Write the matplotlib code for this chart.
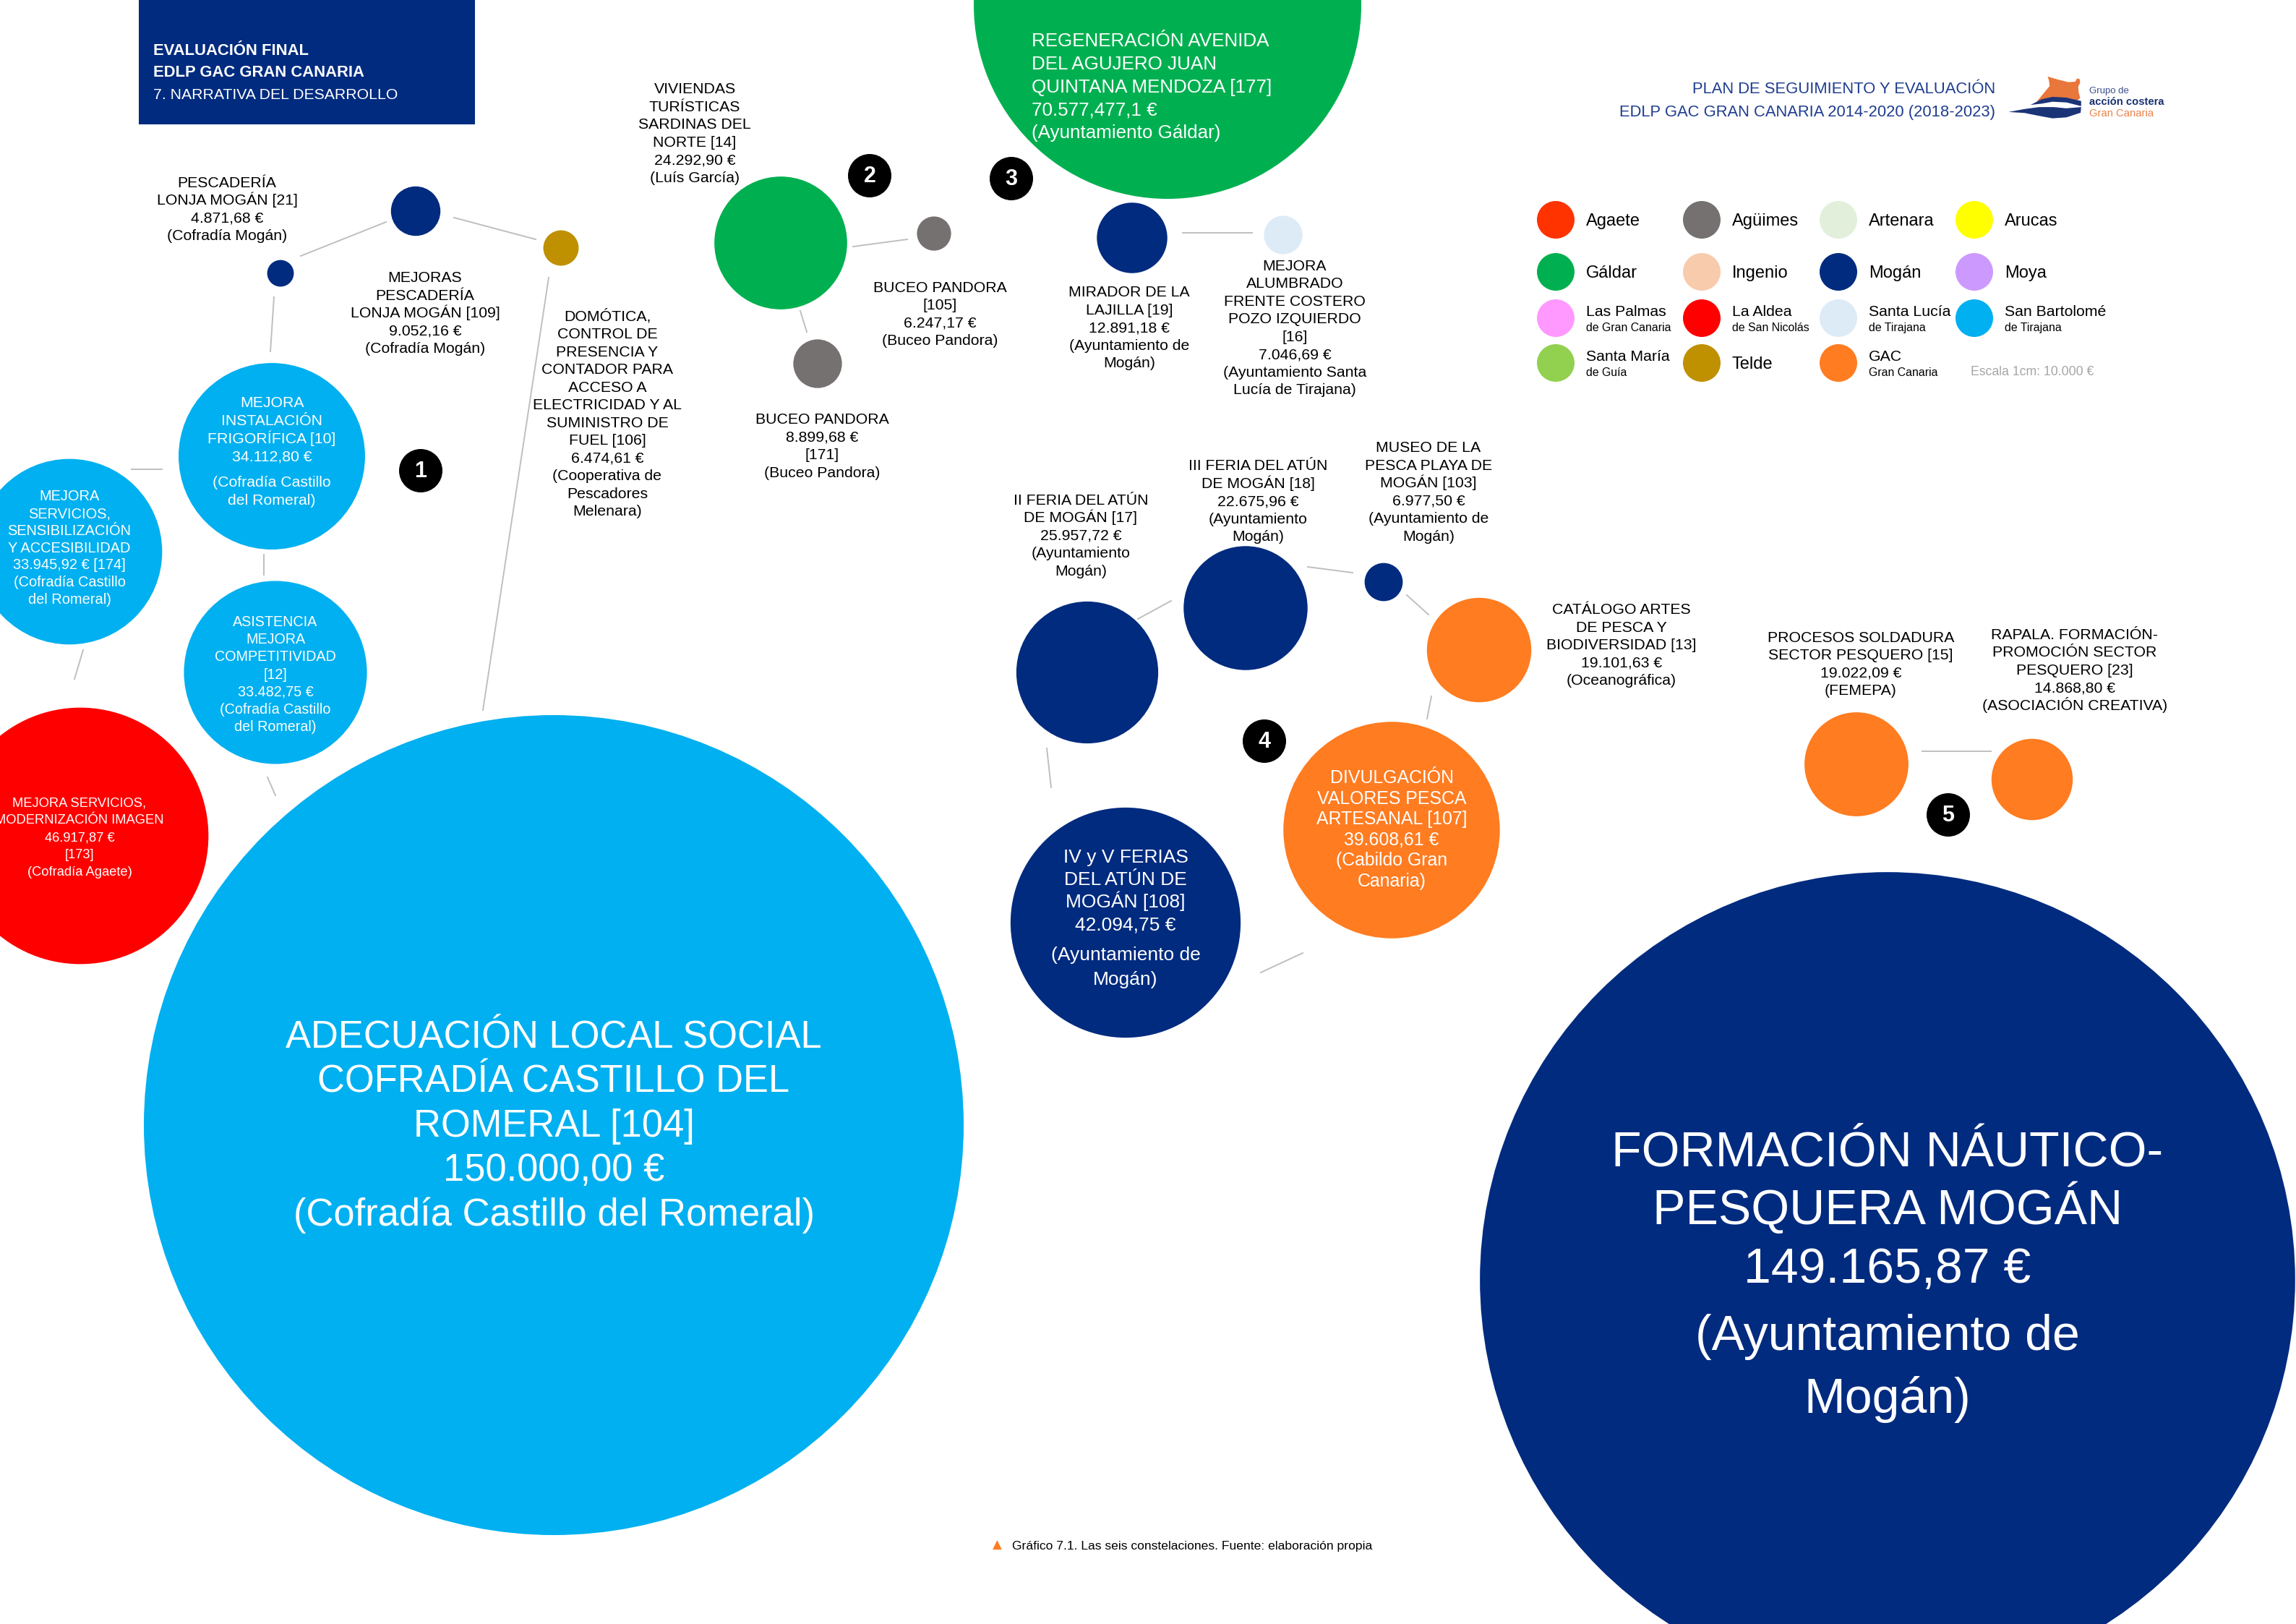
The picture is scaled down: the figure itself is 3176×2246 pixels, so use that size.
import matplotlib
matplotlib.use('Agg')
import matplotlib.pyplot as plt
from matplotlib.patches import Circle, Rectangle, Polygon
from matplotlib import font_manager

# ---- data -------------------------------------------------------------
codes = ['21', '109', '106', '10', '174', '12', '173', '104', '14', '105', '171',
         '177', '19', '16', '17', '18', '103', '13', '107', '108', '15', '23', '']
amounts = [4871.68, 9052.16, 6474.61, 34112.80, 33945.92, 33482.75, 46917.87,
           150000.00, 24292.90, 6247.17, 8899.68, 70577477.1, 12891.18, 7046.69,
           25957.72, 22675.96, 6977.50, 19101.63, 39608.61, 42094.75, 19022.09,
           14868.80, 149165.87]
groups = ['Mogán', 'Mogán', 'Telde', 'San Bartolomé', 'San Bartolomé', 'San Bartolomé',
          'La Aldea', 'San Bartolomé', 'Gáldar', 'Agüimes', 'Agüimes', 'Gáldar',
          'Mogán', 'Santa Lucía', 'Mogán', 'Mogán', 'Mogán', 'GAC', 'GAC', 'Mogán',
          'GAC', 'GAC', 'Mogán']
# bubble centres on the page (px)
bx = [388, 575, 776, 376, 96, 381, 111, 766, 1080, 1292, 1131, 1615, 1566, 1775,
      1504, 1723, 1914, 2046, 1925, 1557, 2568, 2811, 2611]
by = [378, 292, 343, 631, 763, 930, 1156, 1556, 336, 323, 503, 7, 329, 325,
      930, 841, 805, 899, 1148, 1276, 1057, 1078, 1770]

legend_names = ['Agaete', 'Agüimes', 'Artenara', 'Arucas',
                'Gáldar', 'Ingenio', 'Mogán', 'Moya',
                'Las Palmas', 'La Aldea', 'Santa Lucía', 'San Bartolomé',
                'Santa María', 'Telde', 'GAC']
legend_sub = ['', '', '', '', '', '', '', '',
              'de Gran Canaria', 'de San Nicolás', 'de Tirajana', 'de Tirajana',
              'de Guía', '', 'Gran Canaria']
legend_colors = ['#FF3300', '#767171', '#E2EFDA', '#FFFF00',
                 '#00B050', '#F8CBAD', '#002B7F', '#CC99FF',
                 '#FF99FF', '#FF0000', '#DDEBF7', '#00B0F0',
                 '#92D050', '#BF9000', '#FF7C21']

badges = ['1', '2', '3', '4', '5']
badge_x = [582, 1203, 1399, 1749, 2695]
badge_y = [651, 243, 247, 1025, 1127]

# ---- setup ------------------------------------------------------------
W, H = 3176, 2246
K = 0.00378          # px per euro (diameter scale)
OFF_SCALE = 1e6      # amounts above this are drawn at a fixed size
R_CAP = 268
NAVY = '#002B7F'
BODY = ['Liberation Sans', 'DejaVu Sans']
avail = {f.name for f in font_manager.fontManager.ttflist}
if 'Liberation Sans Narrow' in avail:
    NARROW, NS = ['Liberation Sans Narrow', 'DejaVu Sans'], 1 / 0.82
else:
    NARROW, NS = BODY, 1.0
plt.rcParams['font.family'] = BODY

fig = plt.figure(figsize=(W / 100, H / 100), dpi=100)
ax = fig.add_axes([0, 0, 1, 1])
ax.set_xlim(0, W)
ax.set_ylim(H, 0)
ax.set_aspect('equal')
ax.axis('off')

cmap = dict(zip(legend_names, legend_colors))


def block(x, yc, text, size, pitch, color='black', ha='center', weight='normal', family=None):
    lines = text.split('\n')
    n = len(lines)
    cap = 0.716 * size * 100 / 72
    for i, line in enumerate(lines):
        yy = yc + (i - (n - 1) / 2) * pitch + cap / 2
        ax.text(x, yy, line, ha=ha, va='baseline', fontsize=size, color=color,
                fontweight=weight, family=family or BODY, zorder=5)


# connectors
links = [((416, 354), (534, 307)), ((628, 301), (741, 331)), ((379, 411), (374, 486)),
         ((759, 384), (668, 982)), ((182, 649), (224, 649)), ((365, 767), (365, 795)),
         ((115, 899), (103, 939)), ((370, 1075), (381, 1100)), ((1180, 341), (1255, 331)),
         ((1107, 430), (1116, 459)), ((1636, 322), (1732, 322)), ((1574, 856), (1620, 831)),
         ((1809, 784), (1871, 792)), ((1946, 823), (1976, 850)), ((1980, 963), (1974, 994)),
         ((1448, 1035), (1454, 1089)), ((1744, 1345), (1802, 1318)), ((2659, 1039), (2754, 1039))]
for (x0, y0), (x1, y1) in links:
    ax.plot([x0, x1], [y0, y1], color='#BFBFBF', lw=1.4, zorder=1)

# bubbles
for xi, yi, a, g in zip(bx, by, amounts, groups):
    r = R_CAP if a > OFF_SCALE else a * K
    ax.add_patch(Circle((xi, yi), r, color=cmap[g], lw=0, zorder=2))

# constellation badges
for t, xi, yi in zip(badges, badge_x, badge_y):
    ax.add_patch(Circle((xi, yi), 30, color='black', lw=0, zorder=3))
    ax.text(xi, yi + 1, t, ha='center', va='center', color='white', fontsize=22,
            fontweight='bold', zorder=4)

# outside labels
P = 24.5
S = 15.3
block(314, 288, 'PESCADERÍA\nLONJA MOGÁN [21]\n4.871,68 €\n(Cofradía Mogán)', S, P)
block(588, 431.5, 'MEJORAS\nPESCADERÍA\nLONJA MOGÁN [109]\n9.052,16 €\n(Cofradía Mogán)', S, P)
block(840, 571, 'DOMÓTICA,\nCONTROL DE\nPRESENCIA Y\nCONTADOR PARA\nACCESO A\n'
      'ELECTRICIDAD Y AL\nSUMINISTRO DE\nFUEL [106]\n6.474,61 €\n(Cooperativa de\n'
      'Pescadores\nMelenara)', S, P)
block(961, 183, 'VIVIENDAS\nTURÍSTICAS\nSARDINAS DEL\nNORTE [14]\n24.292,90 €\n(Luís García)', S, P)
block(1300, 433, 'BUCEO PANDORA\n[105]\n6.247,17 €\n(Buceo Pandora)', S, P)
block(1137, 615.5, 'BUCEO PANDORA\n8.899,68 €\n[171]\n(Buceo Pandora)', S, P)
block(1562, 451.5, 'MIRADOR DE LA\nLAJILLA [19]\n12.891,18 €\n(Ayuntamiento de\nMogán)', S, P)
block(1791, 452, 'MEJORA\nALUMBRADO\nFRENTE COSTERO\nPOZO IZQUIERDO\n[16]\n7.046,69 €\n'
      '(Ayuntamiento Santa\nLucía de Tirajana)', S, P)
block(1495, 739, 'II FERIA DEL ATÚN\nDE MOGÁN [17]\n25.957,72 €\n(Ayuntamiento\nMogán)', S, P)
block(1740, 691.5, 'III FERIA DEL ATÚN\nDE MOGÁN [18]\n22.675,96 €\n(Ayuntamiento\nMogán)', S, P)
block(1976, 679, 'MUSEO DE LA\nPESCA PLAYA DE\nMOGÁN [103]\n6.977,50 €\n(Ayuntamiento de\nMogán)', S, P)
block(2243, 890.5, 'CATÁLOGO ARTES\nDE PESCA Y\nBIODIVERSIDAD [13]\n19.101,63 €\n(Oceanográfica)', S, P)
block(2574, 917, 'PROCESOS SOLDADURA\nSECTOR PESQUERO [15]\n19.022,09 €\n(FEMEPA)', S, P)
block(2870, 925, 'RAPALA. FORMACIÓN-\nPROMOCIÓN SECTOR\nPESQUERO [23]\n14.868,80 €\n'
      '(ASOCIACIÓN CREATIVA)', S, P)

# labels inside bubbles
Wt = 'white'
block(376, 592.5, 'MEJORA\nINSTALACIÓN\nFRIGORÍFICA [10]\n34.112,80 €', 15.3, 25, Wt)
block(376, 677.5, '(Cofradía Castillo\ndel Romeral)', 15.3, 25, Wt)
block(96, 756.5, 'MEJORA\nSERVICIOS,\nSENSIBILIZACIÓN\nY ACCESIBILIDAD\n33.945,92 € [174]\n'
      '(Cofradía Castillo\ndel Romeral)', 14.4, 23.8, Wt)
block(381, 931.5, 'ASISTENCIA\nMEJORA\nCOMPETITIVIDAD\n[12]\n33.482,75 €\n'
      '(Cofradía Castillo\ndel Romeral)', 14.2, 24.2, Wt)
block(110, 1156.5, 'MEJORA SERVICIOS,\nMODERNIZACIÓN IMAGEN\n46.917,87 €\n[173]\n'
      '(Cofradía Agaete)', 13.2, 23.75, Wt)
block(1427, 118.5, 'REGENERACIÓN AVENIDA\nDEL AGUJERO JUAN\nQUINTANA MENDOZA [177]\n'
      '70.577,477,1 €\n(Ayuntamiento Gáldar)', 18.7, 31.7, Wt, ha='left')
block(1925, 1145.5, 'DIVULGACIÓN\nVALORES PESCA\nARTESANAL [107]\n39.608,61 €\n'
      '(Cabildo Gran\nCanaria)', 17.9, 28.6, Wt)
block(1557, 1230.5, 'IV y V FERIAS\nDEL ATÚN DE\nMOGÁN [108]\n42.094,75 €', 19, 31, Wt)
block(1557, 1336, '(Ayuntamiento de\nMogán)', 19, 34, Wt)
block(766, 1553, 'ADECUACIÓN LOCAL SOCIAL\nCOFRADÍA CASTILLO DEL\nROMERAL [104]\n'
      '150.000,00 €\n(Cofradía Castillo del Romeral)', 37.8, 61.7, Wt)
block(2611, 1669, 'FORMACIÓN NÁUTICO-\nPESQUERA MOGÁN\n149.165,87 €', 49, 81, Wt)
block(2611, 1886.5, '(Ayuntamiento de\nMogán)', 49, 87, Wt)

# header box
ax.add_patch(Rectangle((192, 0), 465, 172, color=NAVY, lw=0, zorder=2))
block(212, 83, 'EVALUACIÓN FINAL\nEDLP GAC GRAN CANARIA', 15.8 * NS, 30.5, Wt, ha='left',
      weight='bold', family=NARROW)
block(212, 129, '7. NARRATIVA DEL DESARROLLO', 15.3 * NS, 30, Wt, ha='left', family=NARROW)

# title top right
block(2760, 137, 'PLAN DE SEGUIMIENTO Y EVALUACIÓN\nEDLP GAC GRAN CANARIA 2014-2020 (2018-2023)',
      15.8 * NS, 32, '#1F3D8F', ha='right', family=NARROW)

# logo
def lp(pts):
    return [(2770 + px / 2.96, 90 + py / 2.96) for px, py in pts]

ax.add_patch(Polygon(lp([(185, 47), (230, 60), (270, 70), (298, 68), (305, 55), (316, 57),
                         (318, 72), (310, 88), (312, 112), (318, 135), (300, 150), (262, 141),
                         (220, 139), (175, 146), (140, 150), (168, 116), (193, 86), (190, 62)]),
                     color='#E9763A', lw=0, zorder=3))
ax.add_patch(Polygon(lp([(115, 163), (160, 140), (205, 130), (260, 133), (322, 147), (322, 168),
                         (262, 153), (205, 150), (160, 158)]), color='#1B3478', lw=0, zorder=3))
ax.add_patch(Polygon(lp([(25, 192), (90, 180), (150, 172), (210, 172), (260, 177), (322, 172),
                         (320, 195), (262, 214), (205, 218), (150, 208), (90, 196)]),
                     color='#1B3478', lw=0, zorder=3))
ax.text(2890, 129, 'Grupo de', fontsize=9.5, color='#3B4F8C', va='baseline', family=NARROW)
ax.text(2890, 145, 'acción costera', fontsize=10.6, color='#1B3272', va='baseline',
        fontweight='bold', family=NARROW)
ax.text(2890, 161, 'Gran Canaria', fontsize=10.6, color='#E8834A', va='baseline', family=NARROW)

# legend
cols = [2152, 2354, 2543, 2731]
rows = [304, 376, 440, 502]
for i, (name, sub, col) in enumerate(zip(legend_names, legend_sub, legend_colors)):
    cx, cy = cols[i % 4], rows[i // 4]
    ax.add_patch(Circle((cx, cy), 26, color=col, lw=0, zorder=3))
    if sub:
        block(cx + 42, cy - 11, name, 15.3, 0, ha='left')
        block(cx + 42, cy + 12, sub, 11.4, 0, ha='left')
    else:
        block(cx + 42, cy, name, 17, 0, ha='left')
block(2726, 513, 'Escala 1cm: 10.000 €', 12.7, 0, '#A6A6A6', ha='left')

# caption
ax.text(1379, 2137, '▲', fontsize=12, color='#FF7C21', ha='center', va='center',
        family=['DejaVu Sans'])
block(1400, 2137, 'Gráfico 7.1. Las seis constelaciones. Fuente: elaboración propia', 12.6, 0,
      ha='left')

fig.savefig('out.png', dpi=100, facecolor='white')
